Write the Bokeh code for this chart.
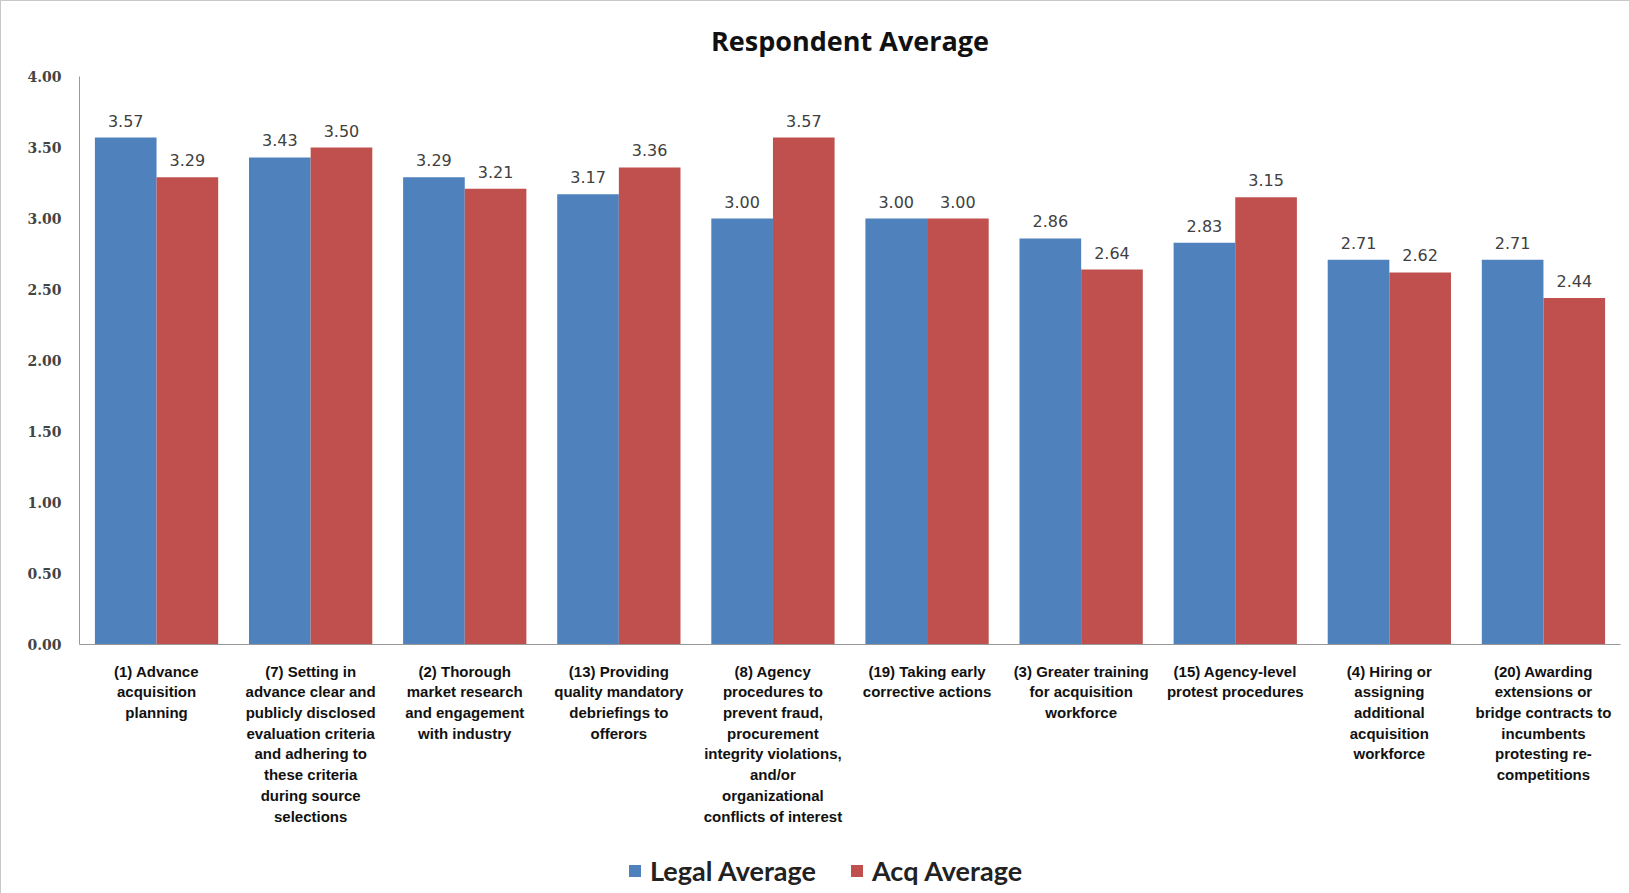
from bokeh.plotting import figure
from bokeh.layouts import column
from bokeh.models import ColumnDataSource, FactorRange, LabelSet, Legend, LegendItem, Range1d, SingleIntervalTicker, NumeralTickFormatter
from bokeh.transform import dodge
from bokeh.core.properties import value
from bokeh.embed import file_html
from bokeh.resources import INLINE

categories = [
    "(1) Advance\nacquisition\nplanning",
    "(7) Setting in\nadvance clear and\npublicly disclosed\nevaluation criteria\nand adhering to\nthese criteria\nduring source\nselections",
    "(2) Thorough\nmarket research\nand engagement\nwith industry",
    "(13) Providing\nquality mandatory\ndebriefings to\nofferors",
    "(8) Agency\nprocedures to\nprevent fraud,\nprocurement\nintegrity violations,\nand/or\norganizational\nconflicts of interest",
    "(19) Taking early\ncorrective actions",
    "(3) Greater training\nfor acquisition\nworkforce",
    "(15) Agency-level\nprotest procedures",
    "(4) Hiring or\nassigning\nadditional\nacquisition\nworkforce",
    "(20) Awarding\nextensions or\nbridge contracts to\nincumbents\nprotesting re-\ncompetitions",
]
legal_avg = [3.57, 3.43, 3.29, 3.17, 3.00, 3.00, 2.86, 2.83, 2.71, 2.71]
acq_avg = [3.29, 3.50, 3.21, 3.36, 3.57, 3.00, 2.64, 3.15, 2.62, 2.44]
series_names = ["Legal Average", "Acq Average"]

BLUE = "#4F81BD"
RED = "#C0504D"

source = ColumnDataSource(dict(
    cat=categories,
    legal=legal_avg,
    acq=acq_avg,
    legal_txt=["%.2f" % v for v in legal_avg],
    acq_txt=["%.2f" % v for v in acq_avg],
))

p = figure(
    width=1628, height=831,
    x_range=FactorRange(*categories, range_padding=0),
    y_range=Range1d(0, 4),
    output_backend="svg", toolbar_location=None,
    min_border_left=78, min_border_right=9, min_border_top=74, min_border_bottom=188,
)
p.x_range.factor_padding = 0

bw = 0.40
r1 = p.vbar(x=dodge("cat", -bw / 2, range=p.x_range), top="legal", width=bw, source=source,
            fill_color=BLUE, line_color=None)
r2 = p.vbar(x=dodge("cat", bw / 2, range=p.x_range), top="acq", width=bw, source=source,
            fill_color=RED, line_color=None)

for col, txt, off in (("legal", "legal_txt", -bw / 2), ("acq", "acq_txt", bw / 2)):
    p.add_layout(LabelSet(x=dodge("cat", off, range=p.x_range), y=col, text=txt, source=source,
                          text_align="center", text_baseline="bottom", y_offset=11,
                          text_font=value("DejaVu Sans"), text_font_size="16px", text_color="#404040"))

p.title.text = "Respondent Average"
p.title.align = "center"
p.title.text_font = "Open Sans"
p.title.text_font_size = "27px"
p.title.text_font_style = "bold"
p.title.text_color = "#111111"
p.title.standoff = 36

p.xgrid.grid_line_color = None
p.ygrid.grid_line_color = None
p.outline_line_color = None

p.yaxis.ticker = SingleIntervalTicker(interval=0.5)
p.yaxis.formatter = NumeralTickFormatter(format="0.00")
p.yaxis.major_label_text_font = "DejaVu Serif"
p.yaxis.major_label_text_font_style = "bold"
p.yaxis.major_label_text_font_size = "14px"
p.yaxis.major_label_text_color = "#444444"
p.yaxis.major_label_standoff = 12
p.yaxis.major_tick_line_color = None
p.yaxis.minor_tick_line_color = None
p.yaxis.axis_line_color = "#999999"

p.xaxis.major_label_text_font = "Liberation Sans"
p.xaxis.major_label_text_font_style = "bold"
p.xaxis.major_label_text_font_size = "15px"
p.xaxis.major_label_text_color = "#111111"
p.xaxis.major_label_text_line_height = 1.22
p.xaxis.major_label_standoff = 12
p.xaxis.major_tick_line_color = None
p.xaxis.axis_line_color = "#999999"

# legend strip below the chart
lf = figure(
    width=1628, height=61,
    x_range=p.x_range, y_range=Range1d(0, 4),
    output_backend="svg", toolbar_location=None,
    min_border_left=0, min_border_right=0, min_border_top=0, min_border_bottom=0,
)
lr1 = lf.vbar(x=dodge("cat", -bw / 2, range=lf.x_range), top="legal", width=bw, source=source,
              fill_color=BLUE, line_color=None, visible=False)
lr2 = lf.vbar(x=dodge("cat", bw / 2, range=lf.x_range), top="acq", width=bw, source=source,
              fill_color=RED, line_color=None, visible=False)
lf.axis.visible = False
lf.xgrid.grid_line_color = None
lf.ygrid.grid_line_color = None
lf.outline_line_color = None

legend = Legend(items=[LegendItem(label=series_names[0], renderers=[lr1]),
                       LegendItem(label=series_names[1], renderers=[lr2])],
                orientation="horizontal", location=(548, 6),
                label_text_font="Lato", label_text_font_style="bold", label_text_font_size="27px",
                label_text_color="#222222", glyph_width=15, glyph_height=15, label_standoff=8,
                spacing=33, padding=6, margin=0, border_line_color=None, background_fill_alpha=0,
                inactive_fill_alpha=0)
lf.add_layout(legend, "center")

layout = column(p, lf, spacing=0)
layout.styles = {"border-top": "1px solid #c8c8c8", "border-left": "1px solid #c8c8c8",
                 "border-right": "1px solid #c8c8c8"}

open("out.html", "w").write(file_html(layout, INLINE))
